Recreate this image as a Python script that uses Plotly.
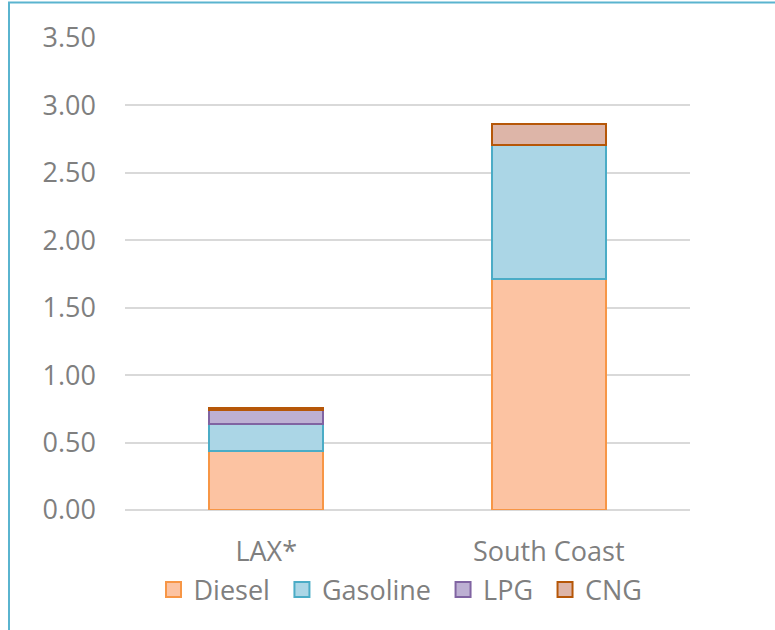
import plotly.graph_objects as go

categories = ["LAX*", "South Coast"]
series_names = ["Diesel", "Gasoline", "LPG", "CNG"]
diesel = [0.44, 1.71]
gasoline = [0.20, 1.00]
lpg = [0.10, 0.00]
cng = [0.02, 0.15]
y_ticks = [0.0, 0.5, 1.0, 1.5, 2.0, 2.5, 3.0, 3.5]

fills = ["#FCC3A2", "#ABD6E6", "#BDB0D3", "#DDB5A8"]
lines = ["#F79646", "#4BACC6", "#8064A2", "#B65708"]
values = [diesel, gasoline, lpg, cng]

FONT = "Open Sans"
GRAY = "#7F7F7F"
FS = 27

fig = go.Figure()
for name, vals, fc, lc in zip(series_names, values, fills, lines):
    fig.add_trace(go.Bar(
        name=name, x=categories, y=vals, showlegend=False,
        marker=dict(color=fc, line=dict(color=lc, width=2)),
    ))
# legend entries with larger square keys
for i, (name, fc, lc) in enumerate(zip(series_names, fills, lines)):
    label = name + ("\u00a0" if i < len(series_names) - 1 else "")
    fig.add_trace(go.Scatter(
        name=label, x=[None], y=[None], mode="markers",
        marker=dict(symbol="square", size=15, color=fc, line=dict(color=lc, width=2)),
        showlegend=True,
    ))

W, H = 775, 630
L, R, T, B = 125, 85, 38, 120
pw, ph = W - L - R, H - T - B

def px_x(p):
    return (p - L) / pw

def px_y(p):
    return (H - B - p) / ph

fig.update_layout(
    width=W, height=H,
    margin=dict(l=L, r=R, t=T, b=B),
    barmode="stack",
    bargap=0.595,
    paper_bgcolor="white",
    plot_bgcolor="white",
    font=dict(family=FONT, size=FS, color=GRAY),
    showlegend=True,
    legend=dict(
        orientation="h", x=0.5 - 7 / pw, xanchor="center",
        y=px_y(590), yanchor="middle",
        font=dict(family=FONT, size=FS, color=GRAY),
        itemwidth=30, traceorder="normal", itemsizing="trace",
        tracegroupgap=0,
    ),
    xaxis=dict(
        showgrid=False, showline=False, ticks="",
        tickfont=dict(family=FONT, size=FS, color=GRAY),
        ticklabelstandoff=23,
    ),
    yaxis=dict(
        range=[0, 3.5], tickvals=y_ticks, tickformat=".2f",
        showgrid=True, gridcolor="#D9D9D9", gridwidth=1.5,
        zeroline=True, zerolinecolor="#D9D9D9", zerolinewidth=1.5,
        showline=False, ticks="",
        tickfont=dict(family=FONT, size=FS, color=GRAY),
        ticklabelstandoff=28,
    ),
    shapes=[dict(
        type="rect", xref="paper", yref="paper",
        x0=px_x(9), x1=px_x(790), y0=px_y(645), y1=px_y(2.5),
        line=dict(color="#5AB4CF", width=2), fillcolor="rgba(0,0,0,0)",
        layer="below",
    )],
)

fig.write_html("out.html")
